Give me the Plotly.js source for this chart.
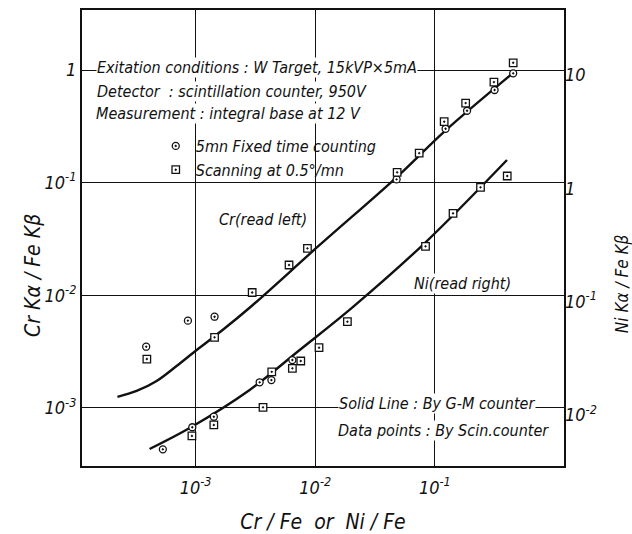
<!DOCTYPE html>
<html>
<head>
<meta charset="utf-8">
<script src="https://cdn.plot.ly/plotly-3.0.1.min.js"></script>
<style>html,body{margin:0;padding:0;background:#fff;}</style>
</head>
<body>
<div id="chart" style="width:632px;height:534px;"></div>
<script>
// ---- data (log-log) ----
// Cr (read on left axis)
const crCircleX = [0.452, 0.316, 0.186, 0.123, 0.0479, 0.00144, 0.000862, 0.000386];
const crCircleY = [0.935, 0.665, 0.435, 0.301, 0.107, 0.00646, 0.00596, 0.0035];
const crSquareX = [0.452, 0.312, 0.181, 0.1197, 0.074, 0.0484, 0.00861, 0.00604, 0.00297, 0.00144, 0.000391];
const crSquareY = [1.16, 0.782, 0.509, 0.348, 0.183, 0.1236, 0.0261, 0.0186, 0.0106, 0.00424, 0.00272];
const crLineX = [0.000222, 0.000321, 0.000472, 0.000693, 0.00102, 0.00168, 0.00294, 0.0109, 0.0481, 0.1213, 0.45];
const crLineY = [0.001253, 0.001416, 0.001738, 0.00236, 0.00327, 0.00492, 0.00804, 0.028, 0.1122, 0.2875, 0.941];
// Ni (read on right axis)
const niSquareX = [0.403, 0.241, 0.142, 0.0836, 0.01858, 0.01076, 0.00757, 0.00644, 0.00433, 0.00366, 0.00142, 0.000931];
const niSquareY = [1.284, 1.02, 0.601, 0.3077, 0.0665, 0.0392, 0.0299, 0.02577, 0.0240, 0.01167, 0.00815, 0.00652];
const niCircleX = [0.00644, 0.0043, 0.00343, 0.00142, 0.000938, 0.000532];
const niCircleY = [0.0305, 0.0203, 0.0194, 0.00964, 0.00778, 0.00497];
const niLineX = [0.000412, 0.000891, 0.00283, 0.00741, 0.0206, 0.0841, 0.401];
const niLineY = [0.0050, 0.00766, 0.0166, 0.0374, 0.0895, 0.3357, 1.778];
// ticks
const xTickVals = [0.001, 0.01, 0.1];
const xTickText = ['10<sup>-3</sup>', '10<sup>-2</sup>', '10<sup>-1</sup>'];
const yLeftTickVals = [0.001, 0.01, 0.1, 1];
const yLeftTickText = ['10<sup>-3</sup>', '10<sup>-2</sup>', '10<sup>-1</sup>', '1'];
const yRightTickVals = [0.01, 0.1, 1, 10];
const yRightTickText = ['10<sup>-2</sup>', '10<sup>-1</sup>', '1', '10'];
// legend names
const circleName = '5mn Fixed time counting';
const squareName = 'Scanning at 0.5°/mn';

const FONT = '"Liberation Sans Narrow", "DejaVu Sans Condensed", "Liberation Sans", sans-serif';
const ink = '#111';
const lineStyle = {color: ink, width: 2.4, shape: 'spline', smoothing: 1};
const circ = {symbol: 'circle-dot', size: 7, color: '#fff', line: {color: ink, width: 1.3}};
const sq = {symbol: 'square-dot', size: 7.5, color: '#fff', line: {color: ink, width: 1.3}};

const traces = [
  {x: crLineX, y: crLineY, mode: 'lines', line: lineStyle, showlegend: false, hoverinfo: 'skip'},
  {x: niLineX, y: niLineY, yaxis: 'y2', mode: 'lines', line: lineStyle, showlegend: false, hoverinfo: 'skip'},
  {x: crCircleX, y: crCircleY, mode: 'markers', marker: circ, name: circleName, legendgroup: 'c', showlegend: true},
  {x: crSquareX, y: crSquareY, mode: 'markers', marker: sq, name: squareName, legendgroup: 's', showlegend: true},
  {x: niCircleX, y: niCircleY, yaxis: 'y2', mode: 'markers', marker: circ, name: circleName, legendgroup: 'c', showlegend: false},
  {x: niSquareX, y: niSquareY, yaxis: 'y2', mode: 'markers', marker: sq, name: squareName, legendgroup: 's', showlegend: false}
];

const txtFont = {family: FONT, size: 16, color: ink, style: 'italic'};
function ann(text, x, y) {
  return {text: text, x: x, y: y, xref: 'paper', yref: 'paper', xanchor: 'left', yanchor: 'middle',
          showarrow: false, font: txtFont, bgcolor: '#fff', borderpad: 0};
}

const layout = {
  width: 632, height: 534,
  margin: {l: 82, r: 68, t: 10, b: 68},
  paper_bgcolor: '#fff', plot_bgcolor: '#fff',
  font: {family: FONT, color: ink, size: 16},
  xaxis: {
    type: 'log', range: [-3.95, 0.08],
    tickvals: xTickVals, ticktext: xTickText, ticks: '', ticklabelstandoff: 4,
    tickfont: {family: FONT, size: 18, color: ink, style: 'italic'},
    showgrid: true, gridcolor: ink, gridwidth: 1,
    showline: true, mirror: true, linecolor: ink, linewidth: 2, zeroline: false,
    title: {text: 'Cr / Fe  or  Ni / Fe', font: {family: FONT, size: 21, color: ink, style: 'italic'}, standoff: 18}
  },
  yaxis: {
    type: 'log', range: [-3.515, 0.533],
    tickvals: yLeftTickVals, ticktext: yLeftTickText, ticks: '',
    tickfont: {family: FONT, size: 18, color: ink, style: 'italic'},
    showgrid: true, gridcolor: ink, gridwidth: 1,
    showline: true, mirror: true, linecolor: ink, linewidth: 2, zeroline: false
  },
  yaxis2: {
    type: 'log', range: [-2.451, 1.574], overlaying: 'y', side: 'right',
    tickvals: yRightTickVals, ticktext: yRightTickText, ticks: '',
    tickfont: {family: FONT, size: 18, color: ink, style: 'italic'},
    showgrid: false, showline: false, zeroline: false
  },
  legend: {
    x: 0.153, y: 0.739, xanchor: 'left', yanchor: 'top',
    bgcolor: 'rgba(255,255,255,0)', borderwidth: 0, tracegroupgap: 0,
    font: {family: FONT, size: 16, color: ink, style: 'italic'}
  },
  annotations: [
    ann('Exitation conditions : W Target, 15kVP×5mA', 0.03, 0.873),
    ann('Detector  : scintillation counter, 950V', 0.03, 0.822),
    ann('Measurement : integral base at 12 V', 0.026, 0.772),
    ann('Cr(read left)', 0.282, 0.54),
    ann('Ni(read right)', 0.687, 0.401),
    ann('Solid Line : By G-M counter', 0.531, 0.138),
    ann('Data points : By Scin.counter', 0.529, 0.077),
    {text: 'Cr Kα / Fe Kβ', x: -0.1017, y: 0.419, xref: 'paper', yref: 'paper', textangle: -90,
     xanchor: 'center', yanchor: 'middle', showarrow: false,
     font: {family: FONT, size: 21, color: ink, style: 'italic'}},
    {text: 'Ni Kα / Fe Kβ', x: 1.1203, y: 0.401, xref: 'paper', yref: 'paper', textangle: -90,
     xanchor: 'center', yanchor: 'middle', showarrow: false,
     font: {family: FONT, size: 17, color: ink, style: 'italic'}}
  ]
};

Plotly.newPlot('chart', traces, layout, {displayModeBar: false, staticPlot: true});
</script>
</body>
</html>
